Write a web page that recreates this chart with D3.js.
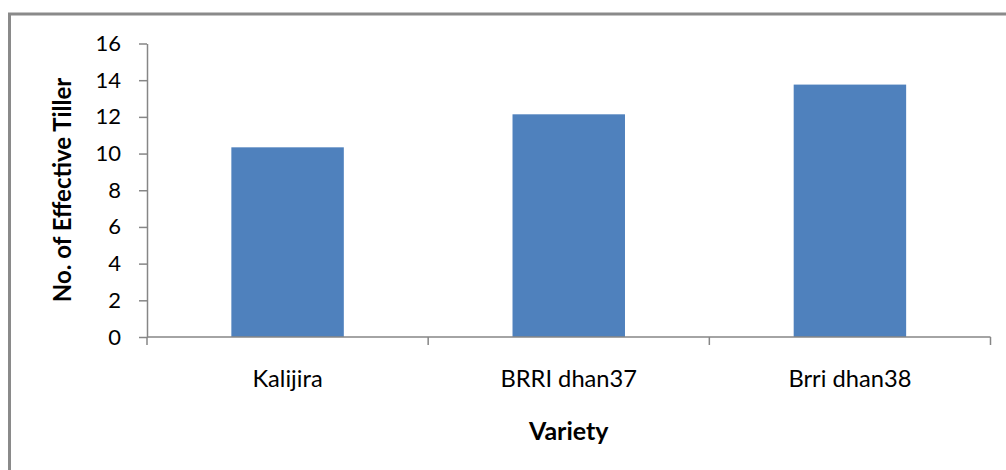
<!DOCTYPE html>
<html>
<head>
<meta charset="utf-8">
<script src="https://cdn.jsdelivr.net/npm/d3@7/dist/d3.min.js"></script>
<style>
  html, body { margin: 0; padding: 0; background: #fff; }
  svg { display: block; }
</style>
</head>
<body>
<svg id="chart" width="1006" height="470"></svg>
<script>
// Number of effective tillers per variety
const categories = ["Kalijira", "BRRI dhan37", "Brri dhan38"];
const tillers = [10.34, 12.14, 13.76];
const yTicks = [0, 2, 4, 6, 8, 10, 12, 14, 16];

const svg = d3.select("#chart");
const W = 1006, H = 470;
const margin = { left: 147, right: W - 990.5, top: 43.5, bottom: H - 337 };

const font = "Lato, 'Open Sans', sans-serif";
const axisColor = "#868686";

// outer chart frame
svg.append("rect")
  .attr("x", 9.5).attr("y", 14)
  .attr("width", 1010).attr("height", 480)
  .attr("fill", "#fff")
  .attr("stroke", "#8a8a8a")
  .attr("stroke-width", 3);

const x = d3.scaleBand()
  .domain(categories)
  .range([margin.left, W - margin.right])
  .paddingInner(0.6).paddingOuter(0.3);

const y = d3.scaleLinear()
  .domain([0, 16])
  .range([H - margin.bottom, margin.top]);

// bars
svg.append("g").selectAll("rect")
  .data(categories)
  .join("rect")
  .attr("x", d => x(d))
  .attr("width", x.bandwidth())
  .attr("y", (d, i) => y(tillers[i]))
  .attr("height", (d, i) => y(0) - y(tillers[i]))
  .attr("fill", "#4f81bd");

// y axis
const yAxis = svg.append("g")
  .attr("transform", `translate(${margin.left},0)`)
  .call(d3.axisLeft(y).tickValues(yTicks).tickSize(8).tickSizeOuter(0).tickPadding(18));
yAxis.select(".domain").attr("stroke", axisColor).attr("stroke-width", 1.5);
yAxis.selectAll(".tick line").attr("stroke", axisColor).attr("stroke-width", 1.5);
yAxis.selectAll(".tick text")
  .attr("fill", "#000")
  .style("font-family", font)
  .style("font-size", "22px");

// x axis: baseline with separator ticks between categories
const baseY = y(0);
const x0 = margin.left, x1 = W - margin.right;
svg.append("line")
  .attr("x1", x0).attr("x2", x1)
  .attr("y1", baseY).attr("y2", baseY)
  .attr("stroke", axisColor).attr("stroke-width", 1.5);

const step = (x1 - x0) / categories.length;
const seps = d3.range(categories.length + 1).map(i => x0 + i * step);
svg.append("g").selectAll("line")
  .data(seps)
  .join("line")
  .attr("x1", d => d).attr("x2", d => d)
  .attr("y1", baseY).attr("y2", baseY + 8)
  .attr("stroke", axisColor).attr("stroke-width", 1.5);

// category labels
svg.append("g").selectAll("text")
  .data(categories)
  .join("text")
  .attr("x", d => x(d) + x.bandwidth() / 2)
  .attr("y", 387)
  .attr("text-anchor", "middle")
  .style("font-family", font)
  .style("font-size", "23.7px")
  .text(d => d);

// axis titles
svg.append("text")
  .attr("x", (x0 + x1) / 2).attr("y", 440)
  .attr("text-anchor", "middle")
  .style("font-family", font)
  .style("font-size", "25px")
  .style("font-weight", "bold")
  .text("Variety");

svg.append("text")
  .attr("transform", "translate(71,190) rotate(-90)")
  .attr("text-anchor", "middle")
  .style("font-family", font)
  .style("font-size", "24px")
  .style("font-weight", "bold")
  .text("No. of Effective Tiller");
</script>
</body>
</html>
